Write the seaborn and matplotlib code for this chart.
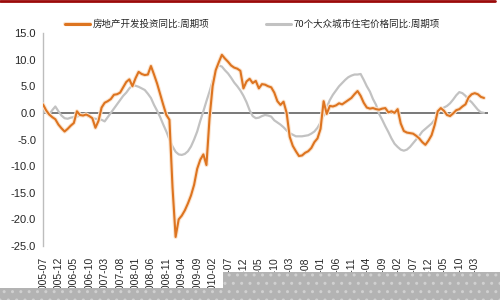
import numpy as np
import pandas as pd
import matplotlib
matplotlib.use("Agg")
import matplotlib.pyplot as plt
import matplotlib.patheffects as pe
from matplotlib.patches import Rectangle
from matplotlib.lines import Line2D
import seaborn as sns

# monthly data, 2005-07 .. 2017-06
months = pd.date_range("2005-07-01", periods=144, freq="MS").strftime("%Y-%m").tolist()

invest_cycle = [
    1.6, 0.5, -0.3, -0.8, -1.2, -2.2, -2.9, -3.5, -3.0, -2.4,
    -1.9, 0.3, -0.4, -0.5, -0.3, -0.6, -1.0, -2.8, -1.5, 1.0,
    1.9, 2.2, 2.6, 3.4, 3.5, 3.8, 4.8, 5.8, 6.3, 5.0,
    6.5, 7.7, 7.3, 7.1, 7.2, 8.8, 7.2, 5.5, 3.5, 1.5,
    -0.4, -1.3, -14.0, -23.3, -20.0, -19.3, -18.3, -17.0, -15.5, -13.5,
    -10.5, -8.8, -7.8, -9.8, -1.0, 5.0, 8.0, 9.5, 10.9, 10.2,
    9.6, 8.9, 8.5, 8.3, 7.9, 4.6, 5.9, 6.4, 5.6, 6.0,
    4.6, 5.4, 5.3, 5.0, 4.8, 3.8, 2.2, 1.5, 2.1, 0.0,
    -4.5, -6.2, -7.2, -8.1, -8.0, -7.5, -7.2, -6.6, -5.5, -4.8,
    -3.0, 2.2, -0.2, 1.3, 1.2, 1.4, 1.8, 1.6, 2.0, 2.4,
    2.8, 3.5, 4.1, 3.2, 1.9, 1.0, 0.8, 0.9, 0.7, 0.6,
    0.8, 0.9, 0.1, 0.3, 0.0, 0.7, -2.0, -3.4, -3.7, -3.8,
    -3.9, -4.3, -4.8, -5.5, -6.0, -5.2, -4.2, -2.3, 0.3, 0.9,
    0.4, -0.4, -0.6, -0.1, 0.5, 0.7, 1.2, 1.6, 2.9, 3.5,
    3.7, 3.5, 3.0, 2.8,
]

price_cycle = [
    0.3, 0.0, -0.3, 0.5, 1.2, 0.3, -0.5, -1.0, -1.1, -0.9,
    -0.8, -0.7, -0.5, -0.3, -0.5, -0.7, -1.0, -1.1, -1.2, -1.3,
    -1.6, -0.8, 0.0, 0.8, 1.6, 2.4, 3.2, 3.8, 4.6, 5.2,
    5.1, 4.9, 4.6, 4.3, 3.6, 2.8, 1.5, 0.4, -0.8, -2.2,
    -3.5, -5.0, -6.3, -7.3, -7.8, -7.9, -7.7, -7.2, -6.3, -5.0,
    -3.5, -1.5, 0.3, 2.2, 4.0, 6.0, 8.0, 8.9, 8.7, 8.0,
    7.4, 6.6, 5.7, 5.0, 4.2, 3.2, 2.0, 0.5, -0.6, -1.0,
    -0.9, -0.6, -0.4, -0.5, -0.7, -1.4, -1.8, -2.2, -2.7, -3.3,
    -3.8, -4.1, -4.4, -4.4, -4.4, -4.3, -4.2, -3.9, -3.5, -2.8,
    -1.8, -0.5, 1.0, 2.4, 3.4, 4.2, 5.0, 5.6, 6.2, 6.7,
    7.0, 7.2, 7.2, 7.3, 6.2, 5.0, 4.0, 2.6, 1.5, -0.2,
    -1.3, -2.5, -3.6, -4.8, -5.8, -6.4, -6.9, -7.1, -6.9, -6.4,
    -5.7, -5.0, -4.3, -3.5, -3.0, -2.5, -2.0, -1.3, 0.0, 0.7,
    1.0, 1.3, 1.8, 2.5, 3.3, 3.9, 3.7, 3.2, 2.5, 2.0,
    1.3, 0.6, 0.1, 0.0,
]

label_invest = "房地产开发投资同比:周期项"
label_price = "70个大众城市住宅价格同比:周期项"

sns.set_style("white")
plt.rcParams["font.family"] = ["Liberation Sans", "Noto Sans CJK SC", "DejaVu Sans"]

df = pd.DataFrame({"idx": np.arange(len(months)), "month": months,
                   "invest": invest_cycle, "price": price_cycle})

fig = plt.figure(figsize=(5, 3), dpi=100)
ax = fig.add_axes([0.086, 0.18, 0.89, 0.71])

orange = "#DD7420"
grey = "#C2C2C2"

ax.axhline(0, color="#6e6e6e", lw=1.3, zorder=1)
sns.lineplot(data=df, x="idx", y="price", ax=ax, color=grey, lw=1.6,
             label=label_price, zorder=2)
sns.lineplot(data=df, x="idx", y="invest", ax=ax, color=orange, lw=1.5,
             label=label_invest, zorder=3,
             path_effects=[pe.withStroke(linewidth=3.0, foreground="#fbe4cf")])

ax.set_xlim(0, 144.3)
ax.set_ylim(-25, 15)
ax.set_yticks(np.arange(-25, 16, 5))
ax.set_yticklabels([f"{v:.1f}" for v in np.arange(-25, 16, 5)], fontsize=8)
ticks = df["idx"][::5]
ax.set_xticks(ticks)
ax.set_xticklabels(df["month"][::5], rotation=90, fontsize=7.5)
ax.tick_params(axis="both", length=0, pad=5)
ax.tick_params(axis="x", pad=8)
ax.set_xlabel("")
ax.set_ylabel("")
for s in ["top", "right", "bottom"]:
    ax.spines[s].set_visible(False)
ax.spines["left"].set_color("#bdbdbd")
ax.spines["left"].set_linewidth(1.0)

# legend on top, handles in the order of the reference
h, l = ax.get_legend_handles_labels()
order = [l.index(label_invest), l.index(label_price)]
leg = ax.legend([h[i] for i in order], [l[i] for i in order], ncol=2, frameon=False,
                loc="center left", bbox_to_anchor=(0.049, 1.04),
                borderaxespad=0, borderpad=0,
                handlelength=2.65, handletextpad=0.3, columnspacing=6.0,
                prop={"family": ["Noto Sans CJK SC", "DejaVu Sans"], "size": 6.8})
for line in leg.get_lines():
    line.set_linewidth(2.2)

# screenshot artefacts: red frame at the top, grey transparent area at the bottom
fig.add_artist(Line2D([0, 0.99], [0.996, 0.996], color="#9b0a0a", lw=2,
                      transform=fig.transFigure))
fig.add_artist(Rectangle((0, 0), 1, 12 / 300, transform=fig.transFigure,
                         facecolor="#b3b3b3", edgecolor="#d0d0d0", hatch="..",
                         lw=0, zorder=10))
fig.add_artist(Rectangle((223 / 500, 0), 1, 28 / 300, transform=fig.transFigure,
                         facecolor="#b3b3b3", edgecolor="#d0d0d0", hatch="..",
                         lw=0, zorder=10))

fig.savefig("out.png", dpi=100, facecolor="white")
